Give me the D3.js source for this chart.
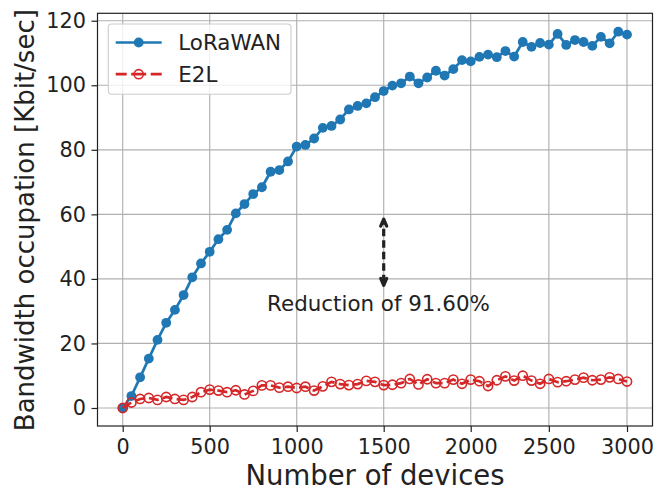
<!DOCTYPE html>
<html>
<head>
<meta charset="utf-8">
<script src="https://cdn.jsdelivr.net/npm/d3@7"></script>
<style>
  html, body { margin: 0; padding: 0; background: #fff; }
  svg { display: block; font-family: "DejaVu Sans", sans-serif; }
</style>
</head>
<body>
<svg id="chart" width="654" height="490"></svg>
<script>
// ---------------- data ----------------
const devices = [0, 50, 100, 150, 200, 250, 300, 350, 400, 450, 500, 550, 600, 650, 700, 750, 800, 850, 900, 950,
  1000, 1050, 1100, 1150, 1200, 1250, 1300, 1350, 1400, 1450, 1500, 1550, 1600, 1650, 1700, 1750, 1800, 1850, 1900, 1950,
  2000, 2056, 2111, 2167, 2222, 2278, 2333, 2389, 2444, 2500, 2556, 2611, 2667, 2722, 2778, 2833, 2889, 2944, 3000];
const loraWAN = [0, 3.7, 9.5, 15.3, 21.1, 26.4, 30.4, 35.0, 40.5, 44.8, 48.4, 52.3, 55.2, 60.3, 63.2, 66.3, 68.4, 73.2, 73.7, 76.4,
  81.0, 81.5, 83.5, 86.8, 87.4, 89.4, 92.5, 93.6, 94.4, 96.3, 98.2, 99.9, 100.6, 102.7, 100.6, 102.4, 104.5, 103.0, 105.0, 107.8,
  107.4, 108.8, 109.5, 108.7, 110.6, 108.9, 113.4, 111.9, 113.1, 112.6, 115.9, 112.5, 114.0, 113.4, 112.2, 115.0, 113.0, 116.6, 115.7];
const e2l = [0, 1.7, 2.8, 3.1, 2.5, 3.4, 2.8, 2.5, 3.4, 4.9, 5.7, 5.4, 4.9, 5.5, 4.2, 5.3, 7.0, 7.0, 6.3, 6.6,
  6.2, 6.6, 5.4, 6.7, 8.1, 7.4, 7.1, 7.4, 8.4, 8.1, 7.1, 7.2, 7.7, 9.0, 7.3, 8.9, 7.7, 7.7, 8.8, 7.5,
  8.8, 8.3, 6.8, 8.6, 9.8, 8.5, 10.0, 8.5, 7.5, 9.0, 8.0, 8.3, 8.8, 9.4, 8.6, 8.8, 9.5, 9.0, 8.2];
const xTicks = [0, 500, 1000, 1500, 2000, 2500, 3000];
const yTicks = [0, 20, 40, 60, 80, 100, 120];
const seriesNames = ["LoRaWAN", "E2L"];
const annotationText = "Reduction of 91.60%";
const annotationAt = [830, 30];      // text anchor (devices, value)
const arrowAt = [1500, 38, 58.5];    // x, from, to

// ---------------- layout ----------------
const svg = d3.select("#chart");
const frame = { left: 97.5, right: 652.5, top: 13.3, bottom: 426 };
const ink = "#222222";
const blue = "#1f77b4", red = "#d62728";
const fs = 20.8, fsText = 21.4;

const x = d3.scaleLinear().domain([0, 2000, 3000]).range([122.7, 470.7, 627]);
const y = d3.scaleLinear().domain([-5.58, 122.3]).range([frame.bottom, frame.top]);

// grid
const grid = svg.append("g");
grid.selectAll("line.gx").data(xTicks).join("line")
  .attr("x1", d => x(d)).attr("x2", d => x(d))
  .attr("y1", frame.top).attr("y2", frame.bottom)
  .attr("stroke", "#b0b0b0").attr("stroke-width", 1.15);
grid.selectAll("line.gy").data(yTicks).join("line")
  .attr("y1", d => y(d)).attr("y2", d => y(d))
  .attr("x1", frame.left).attr("x2", frame.right)
  .attr("stroke", "#b0b0b0").attr("stroke-width", 1.15);

// series
const ptsL = devices.map((d, i) => [d, loraWAN[i]]);
const ptsE = devices.map((d, i) => [d, e2l[i]]);
const line = d3.line().x(d => x(d[0])).y(d => y(d[1]));

svg.append("path").attr("d", line(ptsL)).attr("fill", "none")
  .attr("stroke", blue).attr("stroke-width", 2.7).attr("stroke-linejoin", "round");
svg.append("g").selectAll("circle").data(ptsL).join("circle")
  .attr("cx", d => x(d[0])).attr("cy", d => y(d[1])).attr("r", 4.9).attr("fill", blue);

svg.append("path").attr("d", line(ptsE)).attr("fill", "none")
  .attr("stroke", red).attr("stroke-width", 2.7).attr("stroke-dasharray", "10,4.3");
svg.append("g").selectAll("circle").data(ptsE).join("circle")
  .attr("cx", d => x(d[0])).attr("cy", d => y(d[1])).attr("r", 4.6)
  .attr("fill", "none").attr("stroke", red).attr("stroke-width", 1.6);

// annotation arrow (double headed, dashed)
const ax = x(arrowAt[0]), ay1 = y(arrowAt[1]), ay2 = y(arrowAt[2]);
svg.append("line").attr("x1", ax).attr("x2", ax).attr("y1", ay1 - 3).attr("y2", ay2 + 3)
  .attr("stroke", ink).attr("stroke-width", 3.2).attr("stroke-dasharray", "7.5,4");
const head = (tx, ty, dir) => `M${tx - 3},${ty + dir * 7} L${tx},${ty} L${tx + 3},${ty + dir * 7}`;
svg.append("path").attr("d", head(ax, ay2, 1)).attr("fill", "none").attr("stroke", ink)
  .attr("stroke-width", 3.2).attr("stroke-linejoin", "round").attr("stroke-linecap", "round");
svg.append("path").attr("d", head(ax, ay1, -1)).attr("fill", "none").attr("stroke", ink)
  .attr("stroke-width", 3.2).attr("stroke-linejoin", "round").attr("stroke-linecap", "round");
svg.append("text").attr("x", x(annotationAt[0])).attr("y", y(annotationAt[1]))
  .attr("font-size", fsText).attr("fill", ink).text(annotationText);

// frame
svg.append("rect").attr("x", frame.left).attr("y", frame.top)
  .attr("width", frame.right - frame.left).attr("height", frame.bottom - frame.top)
  .attr("fill", "none").attr("stroke", ink).attr("stroke-width", 1.2);

// axes
const xAxis = svg.append("g").attr("transform", `translate(0,${frame.bottom})`)
  .call(d3.axisBottom(x).tickValues(xTicks).tickSize(6).tickPadding(7.3).tickSizeOuter(0).tickFormat(d3.format("d")));
const yAxis = svg.append("g").attr("transform", `translate(${frame.left},0)`)
  .call(d3.axisLeft(y).tickValues(yTicks).tickSize(6).tickPadding(5.5).tickSizeOuter(0).tickFormat(d3.format("d")));
[xAxis, yAxis].forEach(g => {
  g.select(".domain").remove();
  g.selectAll(".tick line").attr("stroke", ink).attr("stroke-width", 1.2);
  g.selectAll(".tick text").attr("fill", ink).attr("font-size", fs).attr("font-family", "DejaVu Sans");
});

// axis labels
svg.append("text").attr("x", (frame.left + frame.right) / 2).attr("y", 484.5)
  .attr("text-anchor", "middle").attr("font-size", 27.5).attr("fill", ink).text("Number of devices");
svg.append("text").attr("transform", `translate(34,${(frame.top + frame.bottom) / 2 + 0.5}) rotate(-90)`)
  .attr("text-anchor", "middle").attr("font-size", 26).attr("fill", ink).text("Bandwidth occupation [Kbit/sec]");

// legend
const lg = svg.append("g");
lg.append("rect").attr("x", 108.3).attr("y", 24).attr("width", 182.7).attr("height", 70.3).attr("rx", 3.5)
  .attr("fill", "white").attr("fill-opacity", 0.8).attr("stroke", "#cccccc").attr("stroke-width", 1.1);
const rows = [
  { name: seriesNames[0], color: blue, dash: null, filled: true, cy: 42.5 },
  { name: seriesNames[1], color: red, dash: "11,4.5,15,4.5,11", filled: false, cy: 74.2 }
];
rows.forEach(r => {
  lg.append("line").attr("x1", 115.7).attr("x2", 161.7).attr("y1", r.cy).attr("y2", r.cy)
    .attr("stroke", r.color).attr("stroke-width", 2.7).attr("stroke-dasharray", r.dash);
  lg.append("circle").attr("cx", 138.7).attr("cy", r.cy).attr("r", r.filled ? 4.9 : 4.6)
    .attr("fill", r.filled ? r.color : "none").attr("stroke", r.filled ? "none" : r.color).attr("stroke-width", 1.6);
  lg.append("text").attr("x", 178.3).attr("y", r.cy + 7.6).attr("font-size", fsText).attr("fill", ink).text(r.name);
});
</script>
</body>
</html>
